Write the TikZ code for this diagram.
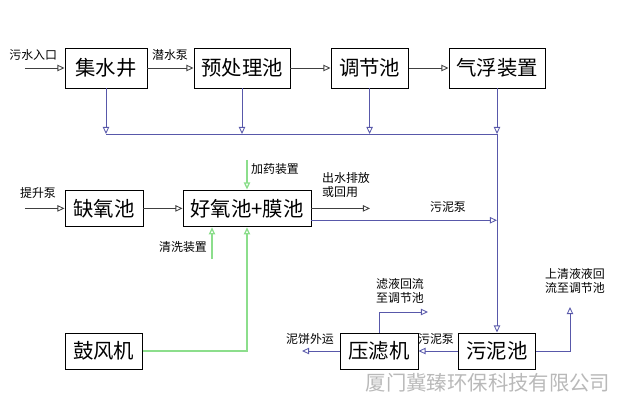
\documentclass[tikz,border=0pt]{standalone}
\usepackage{fontspec}
\setmainfont{Noto Sans CJK SC}
\usepackage{tikz}
\usetikzlibrary{positioning, arrows.meta}
\usepackage{xcolor}
\definecolor{Pipe}{RGB}{88,88,170}
\definecolor{Air}{RGB}{140,222,140}
\definecolor{Mark}{RGB}{185,185,185}

\begin{document}
\begin{tikzpicture}[
    every node/.style={font=\fontsize{8.5}{10}\selectfont, inner sep=1pt},
    tank/.style={draw=black, line width=0.7pt, fill=white, inner sep=2pt,
        minimum height=0.92cm, font=\fontsize{14.5}{16}\selectfont},
    flow/.style={-{Triangle[open, length=5pt, width=4.5pt]}, line width=0.6pt, black!75},
    sludge/.style={flow, Pipe},
    air/.style={flow, Air, line width=0.9pt}
]
\useasboundingbox (0,0) rectangle (15.725,10.3);

% === ROW 1: pretreatment ===
\node[tank, minimum width=2.05cm, minimum height=1cm] (jsj) at (2.65, 8.6) {集水井};
\node[tank, minimum width=2.4cm, minimum height=1cm] (ycl) at (6.05, 8.6) {预处理池};
\node[tank, minimum width=1.93cm, minimum height=1cm] (tjc) at (9.24, 8.6) {调节池};
\node[tank, minimum width=2.4cm, minimum height=1cm] (qfz) at (12.425, 8.6) {气浮装置};

\node (inlet) at (0.83, 8.93) {污水入口};
\coordinate (inlet start) at (0.62, 8.6);
\node (pump1) at (4.25, 8.93) {潜水泵};

\draw[flow] (inlet start) -- (jsj);
\draw[flow] (jsj) -- (ycl);
\draw[flow] (ycl) -- (tjc);
\draw[flow] (tjc) -- (qfz);

% sludge collecting line
\coordinate (bus) at (2.65, 6.95);
\draw[Pipe, line width=0.6pt] (bus) -- (bus -| qfz.south);
\foreach \n in {jsj, ycl, tjc, qfz}
    \draw[sludge] (\n.south) -- (\n.south |- bus);

% === ROW 2: biological treatment ===
\node[tank, minimum width=1.95cm] (qyc) at (2.6, 5.09) {缺氧池};
\node[tank, minimum width=3.2cm] (hyc) at (6.175, 5.09) {好氧池+膜池};

\node (lift) at (0.95, 5.475) {提升泵};
\coordinate (lift start) at (0.62, 5.09);
\draw[flow] (lift start) -- (qyc);
\draw[flow] (qyc) -- (hyc);

\node (dose) at (6.875, 6.075) {加药装置};
\coordinate (dose start) at (6.175, 6.3);
\draw[air] (dose start) -- (hyc.north);

\node (wash) at (4.575, 4.125) {清洗装置};
\coordinate (wash start) at (5.3, 3.82);
\draw[air] (wash start) -- (wash start |- hyc.south);

\node[align=left] (outlet) at (8.65, 5.675) {出水排放\\或回用};
\coordinate (outlet end) at (9.25, 5.09);
\draw[flow] (hyc) -- (outlet end);

\node (pump2) at (11.2, 5.125) {污泥泵};
\draw[sludge] ([yshift=5pt]hyc.south east) -- ([yshift=5pt]hyc.south east -| qfz.south);

% === ROW 3: sludge treatment ===
\node[tank, minimum width=1.93cm, minimum height=0.9cm] (gfj) at (2.59, 1.525) {鼓风机};
\node[tank, minimum width=1.95cm, minimum height=0.9cm] (ylj) at (9.475, 1.525) {压滤机};
\node[tank, minimum width=1.93cm, minimum height=0.9cm] (wnc) at (12.425, 1.525) {污泥池};

\draw[sludge] (qfz.south |- bus) -- (wnc.north);
\draw[air] (gfj) -| (hyc.south);

\node (pump3) at (10.9, 1.825) {污泥泵};
\draw[sludge] (wnc) -- (ylj);

\node (cake) at (7.75, 1.825) {泥饼外运};
\coordinate (cake end) at (7.55, 1.525);
\draw[sludge] (ylj) -- (cake end);

\node[align=center] (filtrate) at (10.0, 3.025) {滤液回流\\至调节池};
\coordinate (filtrate end) at (10.7, 2.5);
\draw[sludge] (ylj.north) |- (filtrate end);

\node[align=center] (clear) at (14.375, 3.275) {上清液液回\\流至调节池};
\coordinate (clear end) at (14.25, 2.625);
\draw[sludge] (wnc) -| (clear end);

% watermark
\node[Mark, font=\fontsize{14.5}{16}\selectfont] (mark) at (12.2, 0.725) {厦门冀臻环保科技有限公司};

\end{tikzpicture}
\end{document}
